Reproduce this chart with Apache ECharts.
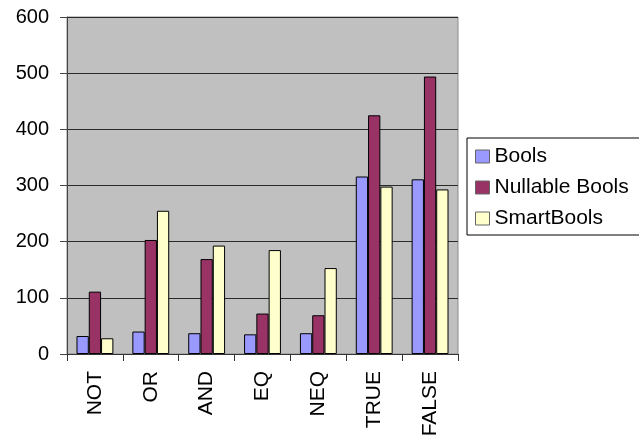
<!DOCTYPE html>
<html>
<head>
<meta charset="utf-8">
<script src="https://cdn.jsdelivr.net/npm/echarts@6/dist/echarts.min.js"></script>
<style>
  html, body { margin: 0; padding: 0; background: #fff; }
  #chart { width: 639px; height: 437px; }
</style>
</head>
<body>
<div id="chart"></div>
<script>
// operators on the x axis
const categories = ['NOT', 'OR', 'AND', 'EQ', 'NEQ', 'TRUE', 'FALSE'];
const seriesNames = ['Bools', 'Nullable Bools', 'SmartBools'];
const bools = [32, 40, 37, 35, 37, 316, 311];
const nullableBools = [111, 203, 169, 72, 69, 425, 494];
const smartBools = [28, 255, 193, 185, 153, 298, 293];
const seriesColors = ['#9999FF', '#993366', '#FFFFCC'];

const myChart = echarts.init(document.getElementById('chart'));
const font = 'Liberation Sans, Arial, sans-serif';

const makeSeries = (name, data, color) => ({
  name: name,
  type: 'bar',
  data: data,
  barGap: '0%',
  barCategoryGap: '34%',
  itemStyle: {
    color: color,
    borderColor: '#000',
    borderWidth: 1
  }
});

const chartOption = {
  animation: false,
  grid: {
    left: 67,
    right: 181,
    top: 17,
    bottom: 83,
    outerBoundsMode: 'none',
    show: true,
    backgroundColor: '#C0C0C0',
    borderColor: '#8c8c8c',
    borderWidth: 1
  },
  legend: {
    orient: 'vertical',
    left: 467,
    top: 138,
    width: 220,
    padding: [8, 40, 6, 8],
    itemGap: 10,
    itemWidth: 14,
    itemHeight: 13,
    icon: 'rect',
    borderColor: '#000',
    borderWidth: 1,
    backgroundColor: '#fff',
    textStyle: {
      fontFamily: font,
      fontSize: 21,
      color: '#000'
    },
    data: seriesNames.map((n, i) => ({
      name: n,
      itemStyle: { color: seriesColors[i], borderColor: '#666', borderWidth: 1 }
    }))
  },
  xAxis: {
    type: 'category',
    data: categories,
    axisLine: { lineStyle: { color: '#333', width: 1 } },
    axisTick: { show: true, length: 7, lineStyle: { color: '#333' } },
    axisLabel: {
      rotate: 90,
      margin: 17,
      fontFamily: font,
      fontSize: 21,
      color: '#000'
    }
  },
  yAxis: {
    type: 'value',
    min: 0,
    max: 600,
    interval: 100,
    axisLine: { show: true, lineStyle: { color: '#444', width: 1 } },
    axisTick: { show: true, length: 7, lineStyle: { color: '#444' } },
    axisLabel: {
      margin: 18,
      fontFamily: font,
      fontSize: 20,
      color: '#000'
    },
    splitLine: { lineStyle: { color: '#2a2a2a', width: 1 } }
  },
  series: [
    makeSeries(seriesNames[0], bools, seriesColors[0]),
    makeSeries(seriesNames[1], nullableBools, seriesColors[1]),
    makeSeries(seriesNames[2], smartBools, seriesColors[2])
  ]
};
myChart.setOption(chartOption);
</script>
</body>
</html>
